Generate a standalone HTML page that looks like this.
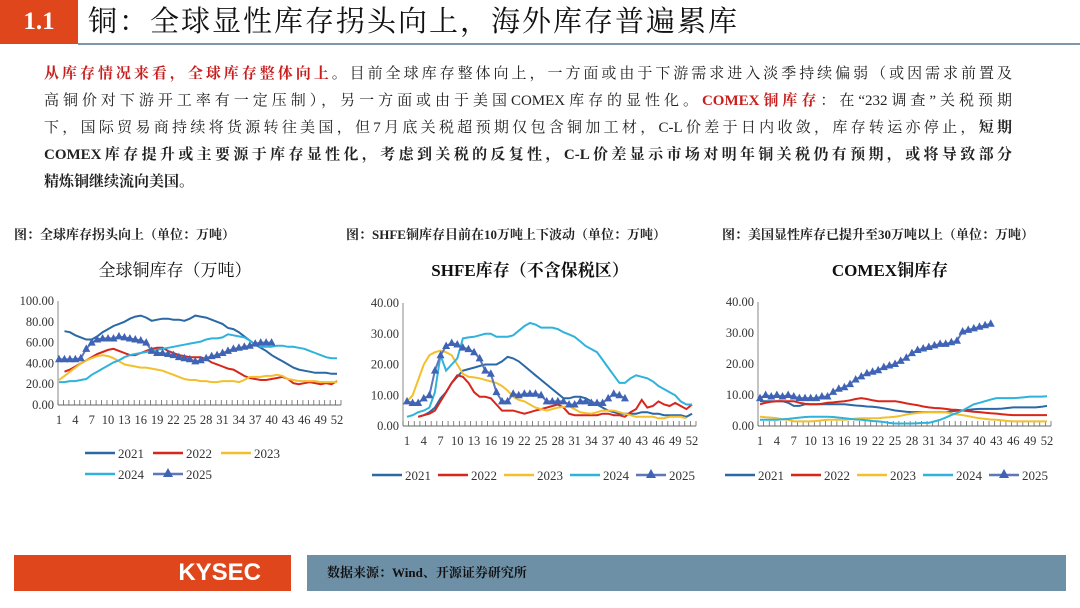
<!DOCTYPE html>
<html><head><meta charset="utf-8">
<style>
body{margin:0;width:1080px;height:608px;background:#fff;position:relative;overflow:hidden;font-family:"Liberation Serif","Noto Serif CJK SC",serif;}
.abs{position:absolute}
.hd-num{left:0;top:0;width:78px;height:44px;background:#e0461c;color:#fff;font:bold 25px "Liberation Serif",serif;text-align:center;line-height:44px}
.hd-title{left:88px;top:1px;font-size:29px;line-height:42px;color:#111;font-family:"Liberation Serif","Noto Serif CJK SC",serif;letter-spacing:2px}
.hd-line{left:78px;top:43px;width:1002px;height:2px;background:#7f97aa}
.para div{position:absolute;left:44px;width:968px;font-size:15px;line-height:20px;color:#222;text-align:justify;text-align-last:justify;white-space:nowrap}
.red{color:#c81e1e;font-weight:bold}
.b{font-weight:bold}
.cap{font-size:13px;font-weight:bold;color:#222;top:224px}
svg text{font-family:"Liberation Serif","Noto Serif CJK SC",serif}
</style></head><body>
<div class="abs hd-num">1.1</div>
<div class="abs hd-title">铜：全球显性库存拐头向上，海外库存普遍累库</div>
<div class="abs hd-line"></div>
<div class="para">
<div style="top:64px"><span class="red">从库存情况来看，全球库存整体向上</span>。目前全球库存整体向上，一方面或由于下游需求进入淡季持续偏弱（或因需求前置及</div>
<div style="top:91px">高铜价对下游开工率有一定压制），另一方面或由于美国COMEX库存的显性化。<span class="red">COMEX铜库存</span>：在“232调查”关税预期</div>
<div style="top:118px">下，国际贸易商持续将货源转往美国，但7月底关税超预期仅包含铜加工材，C-L价差于日内收敛，库存转运亦停止，<span class="b">短期</span></div>
<div class="b" style="top:145px">COMEX库存提升或主要源于库存显性化，考虑到关税的反复性，C-L价差显示市场对明年铜关税仍有预期，或将导致部分</div>
<div class="b" style="top:172px;text-align-last:left">精炼铜继续流向美国。</div>
</div>
<div class="abs cap" style="left:14px">图：全球库存拐头向上（单位：万吨）</div>
<div class="abs cap" style="left:346px">图：SHFE铜库存目前在10万吨上下波动（单位：万吨）</div>
<div class="abs cap" style="left:722px">图：美国显性库存已提升至30万吨以上（单位：万吨）</div>
<svg id="chart" class="abs" style="left:0;top:0" width="1080" height="608"></svg>
<div class="abs" style="left:14px;top:555px;width:277px;height:36px;background:#e0461c;color:#fff;font:bold 24px 'Liberation Sans',sans-serif;line-height:36px;text-align:right;box-sizing:border-box;padding-right:30px">KYSEC</div>
<div class="abs" style="left:307px;top:555px;width:759px;height:36px;background:#6e90a6;color:#111;font-size:13px;font-weight:bold;line-height:36px;padding-left:20px;box-sizing:border-box">数据来源：Wind、开源证券研究所</div>
<script>
const years=["2021","2022","2023","2024","2025"];
const colors=["#2b68a6","#d8261b","#f3bf2c","#2fb2dc","#3f63b5"];
const g2021=[null,71,70,67,65,63,63,66,70,73,76,78,80,83,85,86,84,81,82,83,83,82,82,81,83,86,85,84,82,80,78,74,73,70,66,62,58,55,52,48,45,42,39,36,34,33,32,31,31,31,30,30];
const g2022=[null,32,34,37,40,43,46,49,51,53,54,52,50,48,48,50,52,54,55,55,52,50,48,47,46,46,46,44,41,39,37,35,34,31,28,26,25,24,24,25,26,27,25,21,20,21,22,21,20,21,20,23];
const g2023=[24,28,32,36,40,43,45,47,48,47,45,42,39,38,37,36,36,35,34,33,31,29,27,25,24,24,23,23,22,22,23,23,23,22,24,27,27,27,28,28,29,28,25,24,23,23,23,23,22,22,22,22];
const g2024=[22,22,23,23,24,25,29,32,35,38,41,43,46,48,49,50,51,52,53,54,55,56,57,58,59,60,61,63,64,64,65,68,67,66,65,62,58,56,56,56,57,57,56,56,55,54,52,50,48,46,45,45];
const g2025=[44,44,44,44,45,54,60,63,64,64,64,66,65,64,63,62,60,52,50,50,49,48,46,45,44,42,43,45,47,48,50,52,54,55,56,57,59,60,60,60];
const s2021=[null,null,3,3.5,4.5,6,9,11,14,16,18,18.5,19,19.5,20,20,20,21,22.5,22,21,19.5,18,16.5,15,13.5,12,10.5,9,9,9.5,9.5,9,8,7,6,5,4.5,4,4,4,4,4.5,4.5,4,4,3.5,3.5,3.5,3.5,3,4];
const s2022=[null,null,3,3.5,4,5,8,11,14,16.5,16,14,11,9.5,9.5,9,7,5,5,5,4.5,4,4.5,5,5.5,6,6.5,7,6,4,3.5,3.5,3.5,3.5,3.5,4,4,3.5,3.5,3,4.5,5.5,8.5,6,6.5,8,7,6.5,7.5,6.5,5.5,7];
const s2023=[8,10,15,20,23,24,24.5,24,23,20,17,16,15.8,15.5,15,14.5,14,13,11.5,9.5,8.5,8,7,6,5.5,5,5.5,6,6.2,6.5,5.5,4.5,4.2,4,4.5,5,5,5,4.5,4,3.5,3,3,3,3,2.5,2.5,3,3,3,2.5,null];
const s2024=[3,3.5,4.5,5,6,11,23,18,20,22,28.5,28.8,29,29.5,30,30,29,29,29,29.5,31,32.5,33.5,33,32,32,32,31.5,30.5,29.8,29,27.5,26,25,24,21.5,19,16.5,14,14,15.5,16.5,16,15.5,14.5,13,12,11,10,8,7,7];
const s2025=[8,7.5,7.5,9,10,18,23,26,27,26.5,25.5,25,24,22,18,17,11,8,8,10.5,10,10.5,10.5,10.5,10,8,8,8,8,7,7,8,8,7.5,7.5,7.5,9,10.5,10,9];
const c2021=[8,8,8,8,8,7.5,6.5,6.5,7,7,7,7,7,7,7,7,6.8,6.6,6.5,6.3,6.2,6,5.7,5.4,5,4.8,4.6,4.5,4.5,4.5,4.5,4.5,4.5,4.5,4.7,4.9,5,5.2,5.4,5.5,5.5,5.5,5.5,5.6,5.8,6,6,6,6,6,6.2,6.5];
const c2022=[7,7.5,7.8,8,8,8,8,7.5,7.2,7,7,7.2,7.5,7.6,7.8,8,8.3,8.7,9,8.7,8.3,8,8,8,8,7.7,7.3,7,6.7,6.3,6,5.8,5.7,5.5,5.3,5.2,5,4.8,4.6,4.5,4.3,4.1,4,3.8,3.6,3.5,3.5,3.5,3.5,3.5,3.5,3.5];
const c2023=[3,2.8,2.7,2.5,2.2,2,1.5,1.5,1.5,1.5,1.6,1.8,2,2,2,2,2.2,2.4,2.5,2.5,2.5,2.5,2.7,2.8,3,3.3,3.7,4,4.2,4.4,4.5,4.5,4.5,4.5,4,3.7,3.5,3.2,2.8,2.5,2.3,2.1,2,1.8,1.6,1.5,1.5,1.5,1.5,1.5,1.5,1.5];
const c2024=[2,2,2,2,2.2,2.3,2.5,2.7,2.9,3,3,3,3,2.9,2.7,2.5,2.3,2.1,2,1.8,1.6,1.5,1.3,1,0.8,0.8,0.8,0.8,0.9,1,1,1.5,2,2.7,3.5,4.2,5,6,7,7.5,8,8.5,9,9,9,9,9.1,9.3,9.5,9.5,9.5,9.6];
const c2025=[9,10,9.5,10,9.5,10,9.5,9,9,9,9,9.5,9.5,11,12,12.5,13.5,15,16,17,17.5,18,19,19.5,20,21,22,23.5,24.5,25,25.5,26,26.5,26.5,27,27.5,30.5,31,31.5,32,32.5,33];
const yTicks1=[0,20,40,60,80,100];
const yTicks2=[0,10,20,30,40];
const xTicks=[1,4,7,10,13,16,19,22,25,28,31,34,37,40,43,46,49,52];
const NS="http://www.w3.org/2000/svg";
const svg=document.getElementById("chart");
function mk(tag,attrs,parent){const e=document.createElementNS(NS,tag);for(const k in attrs)e.setAttribute(k,attrs[k]);(parent||svg).appendChild(e);return e;}
function drawChart(cfg){
  const g=mk("g",{});
  
  
  const xs=w=>cfg.x0+(w-1)*(cfg.x1-cfg.x0)/51;
  const ys=v=>cfg.yb-(v/cfg.ymax)*(cfg.yb-cfg.yt);
  const t=mk("text",{x:cfg.tx,y:276,"text-anchor":"middle","font-size":17,"font-weight":cfg.tb?"bold":"normal",fill:"#111"},g);t.textContent=cfg.title;
  
  
  cfg.yt2.forEach(v=>{const l=mk("text",{x:cfg.ax-4,y:ys(v)+4,"text-anchor":"end","font-size":12.5,fill:"#333"},g);l.textContent=v.toFixed(2);
    
    });
  const ax=mk("line",{x1:cfg.ax,y1:cfg.yt,x2:cfg.ax,y2:cfg.yb,stroke:"#888","stroke-width":1},g);
  
  
  const bx=mk("line",{x1:cfg.ax,y1:cfg.yb,x2:cfg.x1+4,y2:cfg.yb,stroke:"#666","stroke-width":1},g);
  
  
  for(let w=1;w<=53;w++){const xx=cfg.ax+(w-1)*(cfg.x1+4-cfg.ax)/52;mk("line",{x1:xx,y1:cfg.yb,x2:xx,y2:cfg.yb-5,stroke:"#666","stroke-width":0.8},g);}
  xTicks.forEach(w=>{const l=mk("text",{x:xs(w),y:cfg.yb+19,"text-anchor":"middle","font-size":12.5,fill:"#333"},g);l.textContent=w;
    
    });
  cfg.series.forEach((arr,i)=>{
    let d="";let pen=false;
    arr.forEach((v,j)=>{if(v==null){pen=false;return;}d+=(pen?"L":"M")+xs(j+1).toFixed(1)+" "+ys(v).toFixed(1);pen=true;});
    const p=mk("path",{d:d,fill:"none",stroke:i==4?"#5f77b8":colors[i],"stroke-width":2},g);
    
    
    if(i==4){arr.forEach((v,j)=>{if(v==null)return;const x=xs(j+1),y=ys(v);
      const m=mk("polygon",{points:`${x},${y-4.5} ${x-4},${y+3} ${x+4},${y+3}`,fill:colors[4]},g);
      
      });}
  });
  cfg.legend.forEach((L,i)=>{
    const lg=mk("g",{},g);
    
    
    mk("line",{x1:L[0],y1:L[1],x2:L[0]+30,y2:L[1],stroke:i==4?"#5f77b8":colors[i],"stroke-width":2.5},lg);
    if(i==4){const cx=L[0]+15;mk("polygon",{points:`${cx},${L[1]-6} ${cx-5},${L[1]+3} ${cx+5},${L[1]+3}`,fill:colors[4]},lg);}
    const tt=mk("text",{x:L[0]+33,y:L[1]+5,"font-size":13,fill:"#333"},lg);tt.textContent=years[i];
  });
}
drawChart({name:"chart-global",title:"全球铜库存（万吨）",tx:175,tb:false,x0:59,x1:337,ax:58,yt:301,yb:405,ymax:100,yt2:yTicks1,
  series:[g2021,g2022,g2023,g2024,g2025],legend:[[85,453],[153,453],[221,453],[85,474],[153,474]]});
drawChart({name:"chart-shfe",title:"SHFE库存（不含保税区）",tx:530,tb:true,x0:407,x1:692,ax:403,yt:303,yb:426,ymax:40,yt2:yTicks2,
  series:[s2021,s2022,s2023,s2024,s2025],legend:[[372,475],[438,475],[504,475],[570,475],[636,475]]});
drawChart({name:"chart-comex",title:"COMEX铜库存",tx:890,tb:true,x0:760,x1:1047,ax:758,yt:302,yb:426,ymax:40,yt2:yTicks2,
  series:[c2021,c2022,c2023,c2024,c2025],legend:[[725,475],[791,475],[857,475],[923,475],[989,475]]});
</script>
</body></html>
